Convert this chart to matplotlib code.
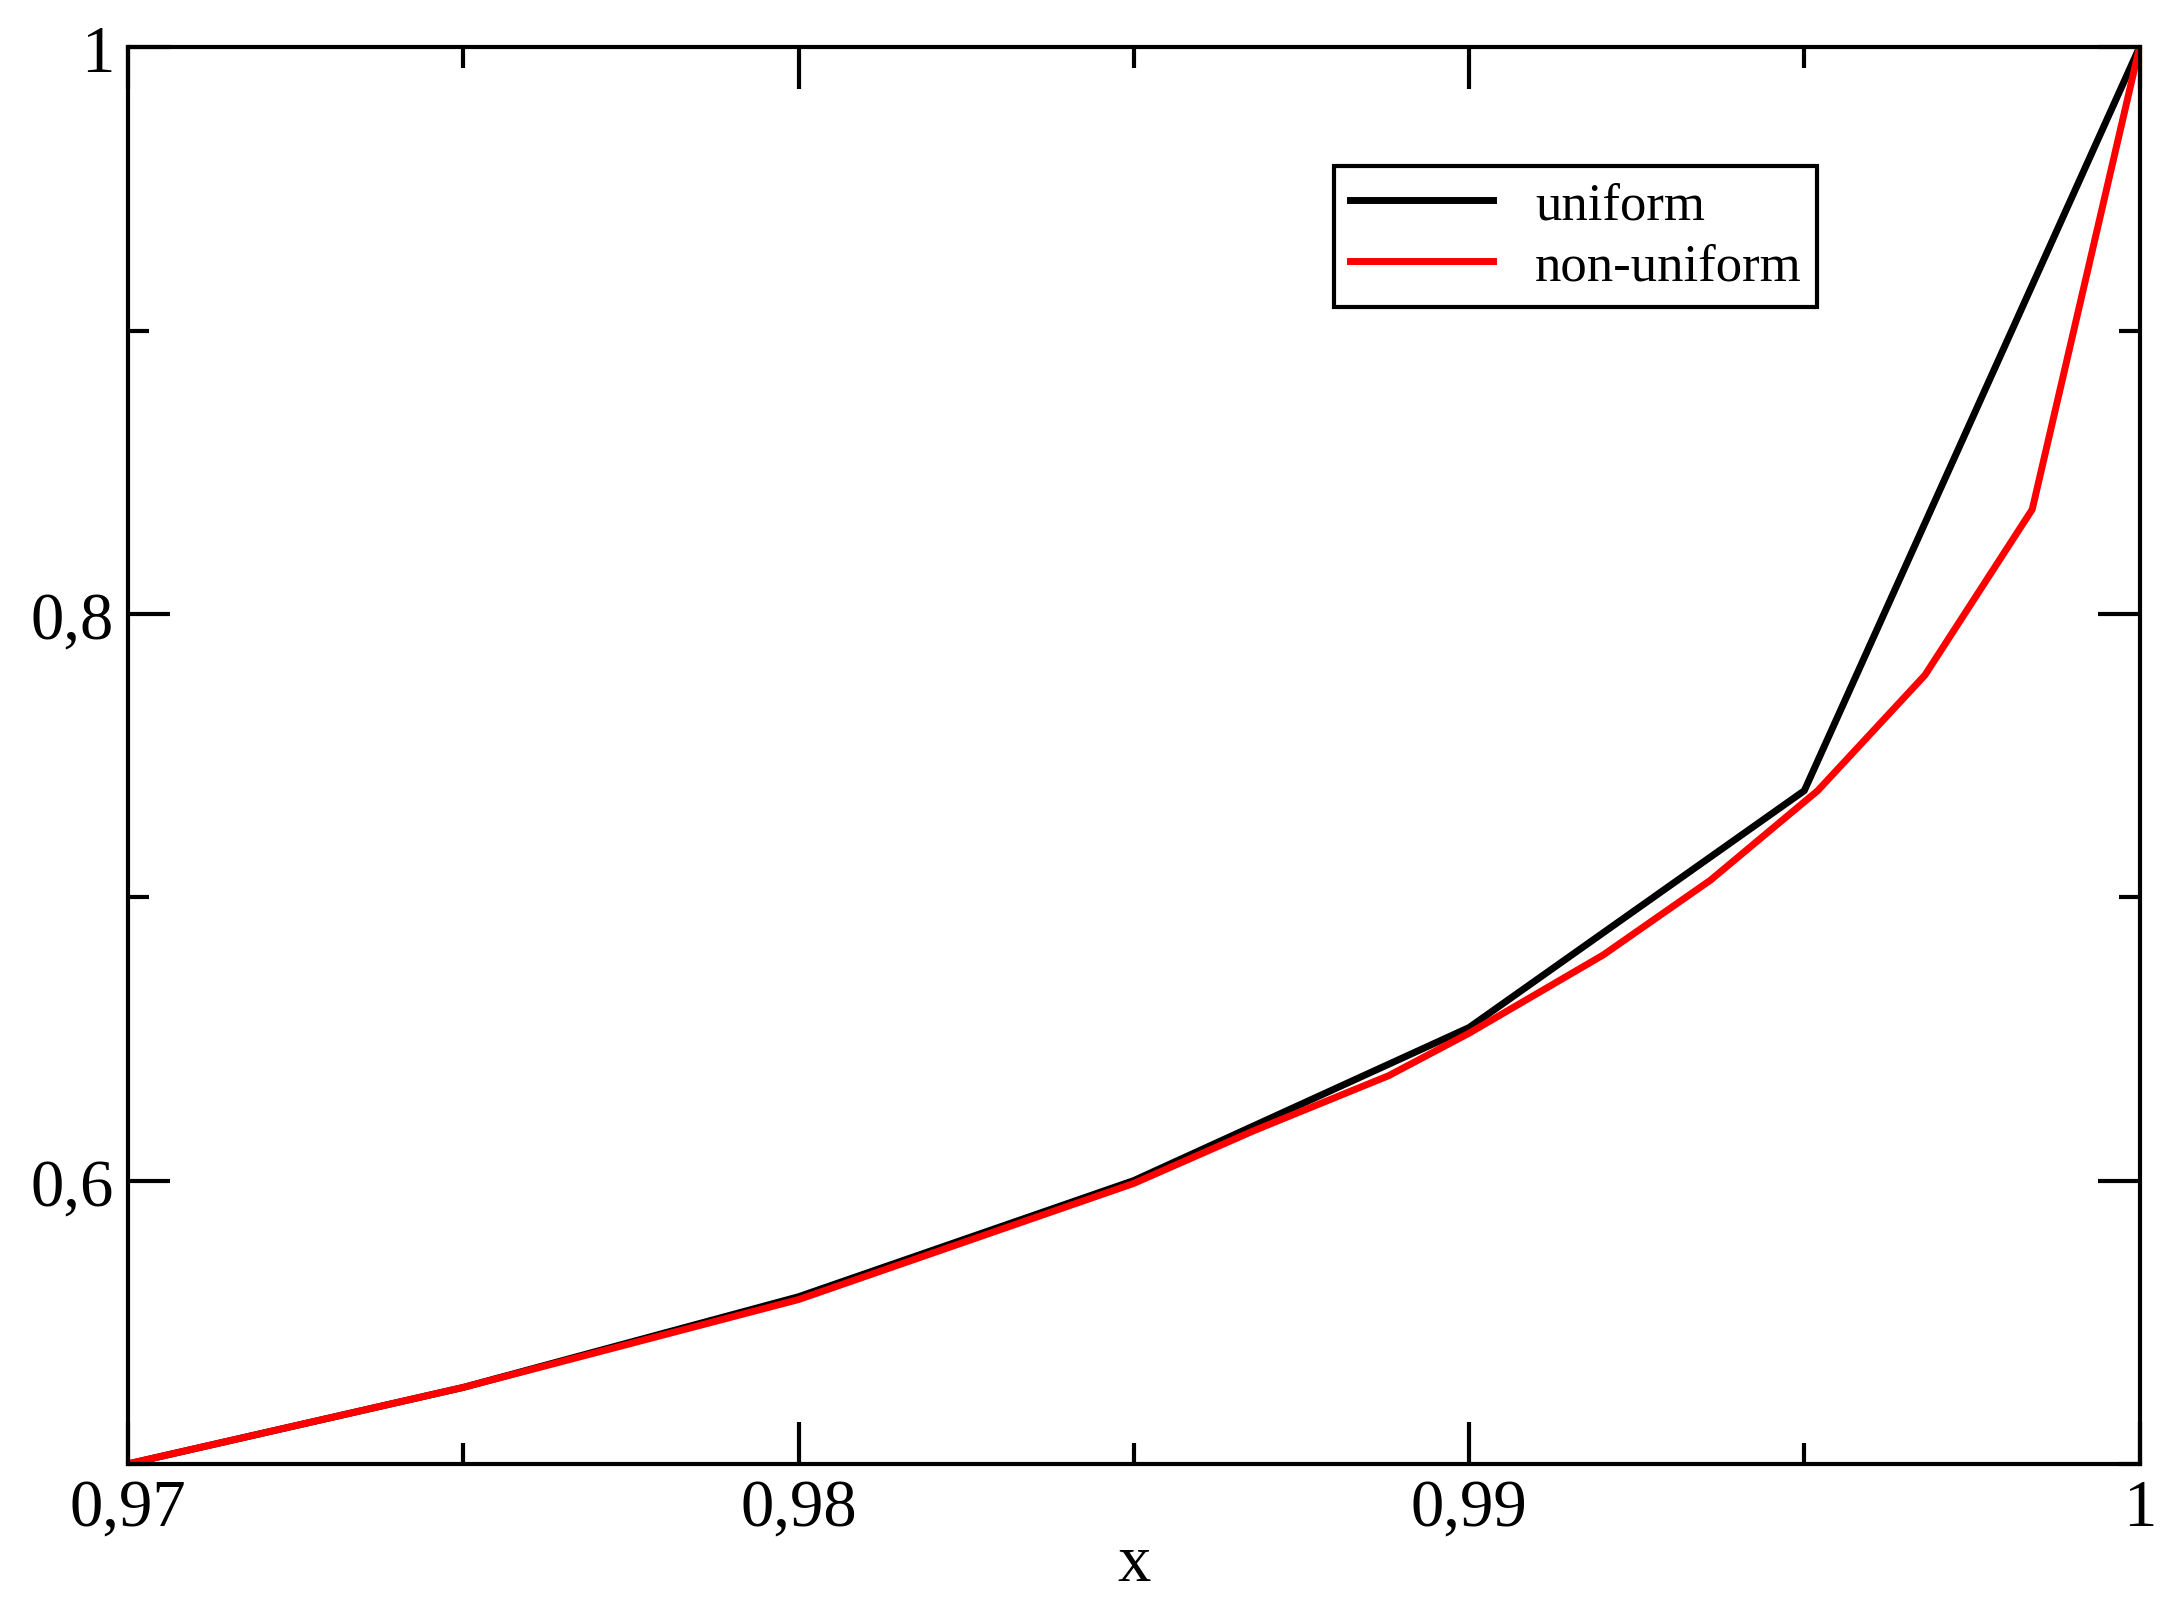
import matplotlib
matplotlib.use("Agg")
import matplotlib.pyplot as plt
from matplotlib.ticker import MultipleLocator, FuncFormatter

ux = [0.97, 0.975, 0.98, 0.985, 0.99, 0.995, 1.0]
uy = [0.5, 0.527, 0.559, 0.6, 0.654, 0.7376, 1.0]
nx = [0.97, 0.975, 0.98, 0.985, 0.9868, 0.9888, 0.99, 0.992, 0.9936, 0.9952, 0.9968, 0.9984, 1.0]
ny = [0.5, 0.527, 0.558, 0.599, 0.6177, 0.637, 0.652, 0.6796, 0.706, 0.7376, 0.7784, 0.8369, 1.0]

plt.rcParams['font.family'] = ['Liberation Serif']
fig = plt.figure(figsize=(21.71, 16.08), dpi=100)
ax = fig.add_axes([0.059, 0.089, 0.9265, 0.881])
ax.plot(ux, uy, color='black', lw=5, label='uniform')
ax.plot(nx, ny, color='red', lw=5, label='non-uniform')
ax.set_xlim(0.97, 1.0)
ax.set_ylim(0.5, 1.0)
ax.xaxis.set_major_locator(MultipleLocator(0.01))
ax.xaxis.set_minor_locator(MultipleLocator(0.005))
ax.yaxis.set_major_locator(MultipleLocator(0.2))
ax.yaxis.set_minor_locator(MultipleLocator(0.1))
fmt = FuncFormatter(lambda v, p: ('%g' % round(v, 4)).replace('.', ','))
ax.xaxis.set_major_formatter(fmt)
ax.yaxis.set_major_formatter(fmt)
ax.tick_params(which='both', direction='in', top=True, right=True, width=3, labelsize=48, pad=10)
ax.tick_params(which='major', length=30)
ax.tick_params(which='minor', length=15)
for s in ax.spines.values():
    s.set_linewidth(3)
ax.set_xlabel('x', fontsize=48, labelpad=-4)
leg = ax.legend(loc='upper right', bbox_to_anchor=(0.853, 0.935), fontsize=38, fancybox=False,
                edgecolor='black', framealpha=1, handlelength=2.7, borderpad=0.3,
                handletextpad=0.8, labelspacing=0.25)
leg.get_frame().set_linewidth(3)
fig.savefig('out.png', dpi=100)
